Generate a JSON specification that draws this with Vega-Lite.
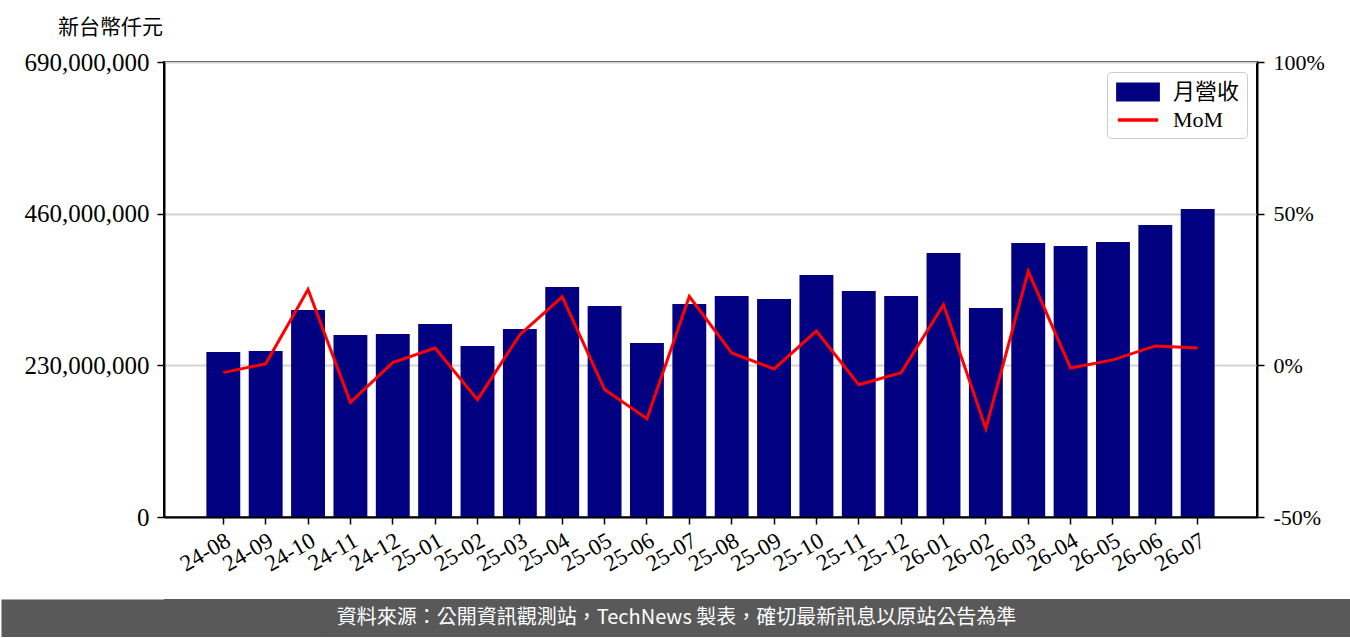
{
  "$schema": "https://vega.github.io/schema/vega-lite/v6.json",
  "background": "white",
  "padding": {"top": 16, "left": 0, "right": 0, "bottom": 0},
  "spacing": 22,
  "resolve": {"scale": {"color": "independent"}, "legend": {"color": "independent"}},
  "config": {
    "view": {"stroke": null},
    "axis": {
      "labelFont": "Liberation Serif",
      "labelFontSize": 23,
      "labelColor": "#000000",
      "tickColor": "#000000",
      "tickWidth": 1.5,
      "tickSize": 7,
      "domainColor": "#000000",
      "domainWidth": 2,
      "titleFont": "Liberation Serif"
    }
  },
  "vconcat": [
    {
      "width": 1093,
      "height": 455,
      "title": {
        "text": "新台幣仟元",
        "anchor": "start",
        "frame": "group",
        "dx": -106,
        "offset": 12,
        "font": "Noto Sans CJK TC",
        "fontSize": 21,
        "fontWeight": "normal",
        "color": "#000000"
      },
      "view": {"stroke": "#000000", "strokeWidth": 2},
      "data": {
        "values": [
          {"month": "24-08", "revenue": 250200000, "mom": -2.4},
          {"month": "24-09", "revenue": 251700000, "mom": 0.5},
          {"month": "24-10", "revenue": 313900000, "mom": 25.0},
          {"month": "24-11", "revenue": 276000000, "mom": -12.2},
          {"month": "24-12", "revenue": 277500000, "mom": 0.9},
          {"month": "25-01", "revenue": 292700000, "mom": 5.7},
          {"month": "25-02", "revenue": 259300000, "mom": -11.3},
          {"month": "25-03", "revenue": 285100000, "mom": 10.1},
          {"month": "25-04", "revenue": 348800000, "mom": 22.6},
          {"month": "25-05", "revenue": 320000000, "mom": -8.0},
          {"month": "25-06", "revenue": 263900000, "mom": -17.6},
          {"month": "25-07", "revenue": 323000000, "mom": 22.7},
          {"month": "25-08", "revenue": 335100000, "mom": 4.1},
          {"month": "25-09", "revenue": 330600000, "mom": -1.2},
          {"month": "25-10", "revenue": 367000000, "mom": 11.3},
          {"month": "25-11", "revenue": 342700000, "mom": -6.4},
          {"month": "25-12", "revenue": 335100000, "mom": -2.4},
          {"month": "26-01", "revenue": 400400000, "mom": 20.0},
          {"month": "26-02", "revenue": 317000000, "mom": -20.9},
          {"month": "26-03", "revenue": 415500000, "mom": 31.0},
          {"month": "26-04", "revenue": 411000000, "mom": -0.9},
          {"month": "26-05", "revenue": 417000000, "mom": 1.8},
          {"month": "26-06", "revenue": 442800000, "mom": 6.4},
          {"month": "26-07", "revenue": 467000000, "mom": 5.7}
        ]
      },
      "encoding": {
        "x": {
          "field": "month",
          "type": "nominal",
          "sort": null,
          "scale": {"paddingInner": 0.2, "paddingOuter": 1.17},
          "axis": {
            "title": null,
            "labelAngle": -30,
            "labelAlign": "right",
            "labelBaseline": "top",
            "labelPadding": 5,
            "zindex": 1,
            "domainWidth": 2
          }
        }
      },
      "layer": [
        {
          "mark": {"type": "bar", "color": "#000080"},
          "encoding": {
            "y": {
              "field": "revenue",
              "type": "quantitative",
              "scale": {"domain": [0, 690000000], "nice": false, "zero": true},
              "axis": {
                "title": null,
                "values": [0, 230000000, 460000000, 690000000],
                "format": ",d",
                "labelFontSize": 25,
                "grid": true,
                "gridColor": "#d3d3d3",
                "gridWidth": 2,
                "labelPadding": 8,
                "minExtent": 163,
                "maxExtent": 163
              }
            },
            "color": {
              "datum": "月營收",
              "type": "nominal",
              "scale": {"domain": ["月營收", "MoM"], "range": ["#000080", "#ff0000"]},
              "legend": {
                "title": null,
                "orient": "top-right",
                "offset": 10,
                "padding": 7,
                "strokeColor": "#cccccc",
                "fillColor": "#ffffff",
                "cornerRadius": 4,
                "labelFont": "Liberation Serif, Noto Sans CJK TC",
                "labelFontSize": 22,
                "labelColor": "#000000",
                "labelOffset": 22,
                "rowPadding": 0,
                "symbolSize": 484,
                "symbolOffset": 11,
                "encode": {
                  "symbols": {
                    "update": {
                      "shape": {"signal": "datum.value === 'MoM' ? 'M-1.83,0H1.83' : 'M-1.83,-0.7H1.83V0.7H-1.83Z'"},
                      "fill": {"signal": "datum.value === 'MoM' ? 'transparent' : '#000080'"},
                      "stroke": {"signal": "datum.value === 'MoM' ? '#ff0000' : 'transparent'"},
                      "strokeWidth": {"value": 3.5},
                      "opacity": {"value": 1}
                    }
                  }
                }
              }
            }
          }
        },
        {
          "mark": {"type": "line", "strokeWidth": 3},
          "encoding": {
            "y": {
              "field": "mom",
              "type": "quantitative",
              "scale": {"domain": [-50, 100], "nice": false, "zero": false},
              "axis": {
                "title": null,
                "orient": "right",
                "values": [-50, 0, 50, 100],
                "labelExpr": "datum.value + '%'",
                "labelFontSize": 22,
                "grid": false,
                "labelPadding": 9
              }
            },
            "color": {"datum": "MoM", "type": "nominal"}
          }
        }
      ],
      "resolve": {"scale": {"y": "independent"}}
    },
    {
      "width": 1187,
      "height": 38,
      "view": {"fill": "#595959", "stroke": null},
      "data": {"values": [{"note": "資料來源：公開資訊觀測站，TechNews 製表，確切最新訊息以原站公告為準", "level": 0}]},
      "mark": {
        "type": "text",
        "color": "#ffffff",
        "font": "Noto Sans CJK TC",
        "fontSize": 20,
        "align": "center",
        "baseline": "middle",
        "dx": -81
      },
      "encoding": {
        "text": {"field": "note", "type": "nominal"},
        "y": {
          "field": "level",
          "type": "quantitative",
          "scale": {"domain": [-1, 1]},
          "axis": {
            "title": null,
            "labels": false,
            "ticks": false,
            "grid": false,
            "domain": true,
            "domainColor": "#595959",
            "domainWidth": 326,
            "domainCap": "butt"
          }
        }
      }
    }
  ]
}
